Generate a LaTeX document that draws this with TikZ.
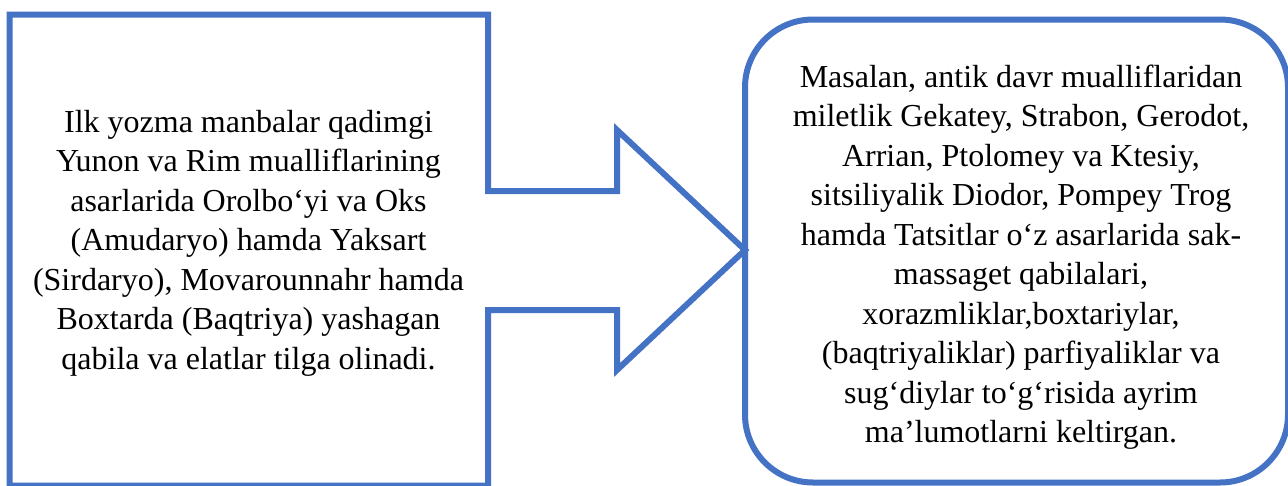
\documentclass[tikz,border=0pt]{standalone}
\usepackage{fontspec}
\setmainfont{Liberation Serif}
\definecolor{officeblue}{HTML}{4472C4}
\begin{document}
\begin{tikzpicture}[x=1pt,y=-1pt,
  outline/.style={draw=officeblue, line width=6pt, line join=miter},
  bodytext/.style={font=\fontsize{32}{39.5}\selectfont, align=center, inner sep=0pt, text=black}]
\useasboundingbox (0,0) rectangle (1288,485);
% left box with arrow callout
\draw[outline] (9.5,14.5) -- (488,14.5) -- (488,191) -- (617,191) -- (617,130)
  -- (745,250) -- (617,370) -- (617,310) -- (488,310) -- (488,485.5) -- (9.5,485.5) -- cycle;
% right rounded box
\draw[outline, rounded corners=68pt] (745,19.5) rectangle (1288,482.5);
\node[bodytext] (lefttext) at (248.5,243) {Ilk yozma manbalar qadimgi\\Yunon va Rim mualliflarining\\asarlarida Orolbo‘yi va Oks\\(Amudaryo) hamda Yaksart\\(Sirdaryo), Movarounnahr hamda\\Boxtarda (Baqtriya) yashagan\\qabila va elatlar tilga olinadi.};
\node[bodytext] (righttext) at (1021,257) {Masalan, antik davr mualliflaridan\\miletlik Gekatey, Strabon, Gerodot,\\Arrian, Ptolomey va Ktesiy,\\sitsiliyalik Diodor, Pompey Trog\\hamda Tatsitlar o‘z asarlarida sak-\\massaget qabilalari,\\xorazmliklar,boxtariylar,\\(baqtriyaliklar) parfiyaliklar va\\sug‘diylar to‘g‘risida ayrim\\ma’lumotlarni keltirgan.};
\end{tikzpicture}
\end{document}
